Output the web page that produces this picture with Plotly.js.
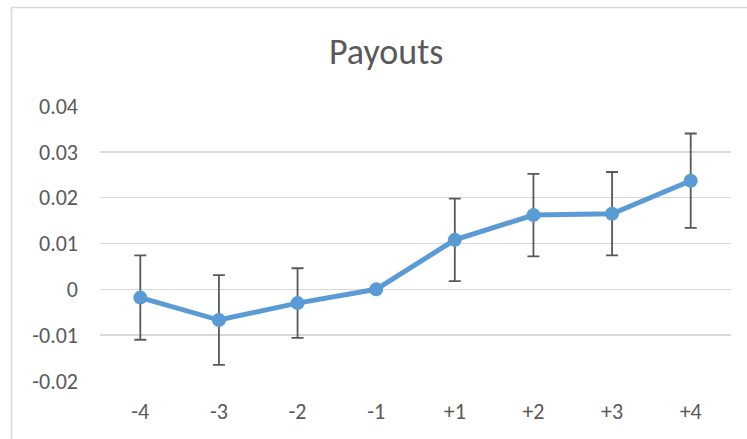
<!DOCTYPE html>
<html>
<head>
<meta charset="utf-8">
<script src="https://cdn.plot.ly/plotly-3.0.1.min.js"></script>
<style>
  html, body { margin: 0; padding: 0; background: #ffffff; }
  #chart { width: 747px; height: 439px; }
</style>
</head>
<body>
<div id="chart"></div>
<script>
// Data
const categories = ["-4", "-3", "-2", "-1", "+1", "+2", "+3", "+4"];
const payouts = [-0.0018, -0.0067, -0.0030, 0.0000, 0.0108, 0.0162, 0.0165, 0.0237];
const errors = [0.0092, 0.0098, 0.0076, 0.0000, 0.0090, 0.0090, 0.0091, 0.0103];
const yTicks = [-0.02, -0.01, 0, 0.01, 0.02, 0.03, 0.04];
const yTickText = ["-0.02", "-0.01", "0", "0.01", "0.02", "0.03", "0.04"];

const fontFamily = "Carlito, Lato, 'Open Sans', sans-serif";
const textColor = "#595959";

const trace = {
  type: "scatter",
  mode: "lines+markers",
  x: categories,
  y: payouts,
  line: { color: "#5b9bd5", width: 5 },
  marker: { color: "#5b9bd5", size: 14 },
  error_y: {
    type: "data",
    array: errors,
    visible: true,
    color: "#595959",
    thickness: 1.8,
    width: 6
  },
  hoverinfo: "x+y"
};

const layout = {
  width: 747,
  height: 439,
  margin: { l: 100, r: 16, t: 106, b: 58, pad: 0 },
  paper_bgcolor: "#ffffff",
  plot_bgcolor: "#ffffff",
  showlegend: false,
  font: { family: fontFamily, color: textColor, size: 22 },
  title: {
    text: "Payouts",
    font: { family: fontFamily, size: 36, color: textColor },
    xref: "container",
    yref: "container",
    x: 0.517,
    xanchor: "center",
    y: 0.884,
    yanchor: "middle"
  },
  xaxis: {
    type: "category",
    showgrid: false,
    showline: false,
    zeroline: false,
    ticks: "",
    ticklabelstandoff: 15,
    tickfont: { family: fontFamily, size: 22, color: textColor }
  },
  yaxis: {
    range: [-0.02, 0.04],
    tickvals: yTicks,
    ticktext: yTickText,
    showgrid: true,
    gridcolor: "#d9d9d9",
    gridwidth: 1.4,
    zeroline: false,
    showline: false,
    ticks: "",
    ticklabelstandoff: 21,
    tickfont: { family: fontFamily, size: 22, color: textColor }
  },
  shapes: [
    {
      type: "rect",
      xref: "paper",
      yref: "paper",
      x0: (11.5 - 100) / 631,
      x1: (780 - 100) / 631,
      y0: (381 - 470) / 275,
      y1: (381 - 7.5) / 275,
      line: { color: "#d9d9d9", width: 1.5 },
      fillcolor: "rgba(0,0,0,0)",
      layer: "below"
    }
  ]
};

Plotly.newPlot("chart", [trace], layout, { displayModeBar: false, staticPlot: true });
</script>
</body>
</html>
